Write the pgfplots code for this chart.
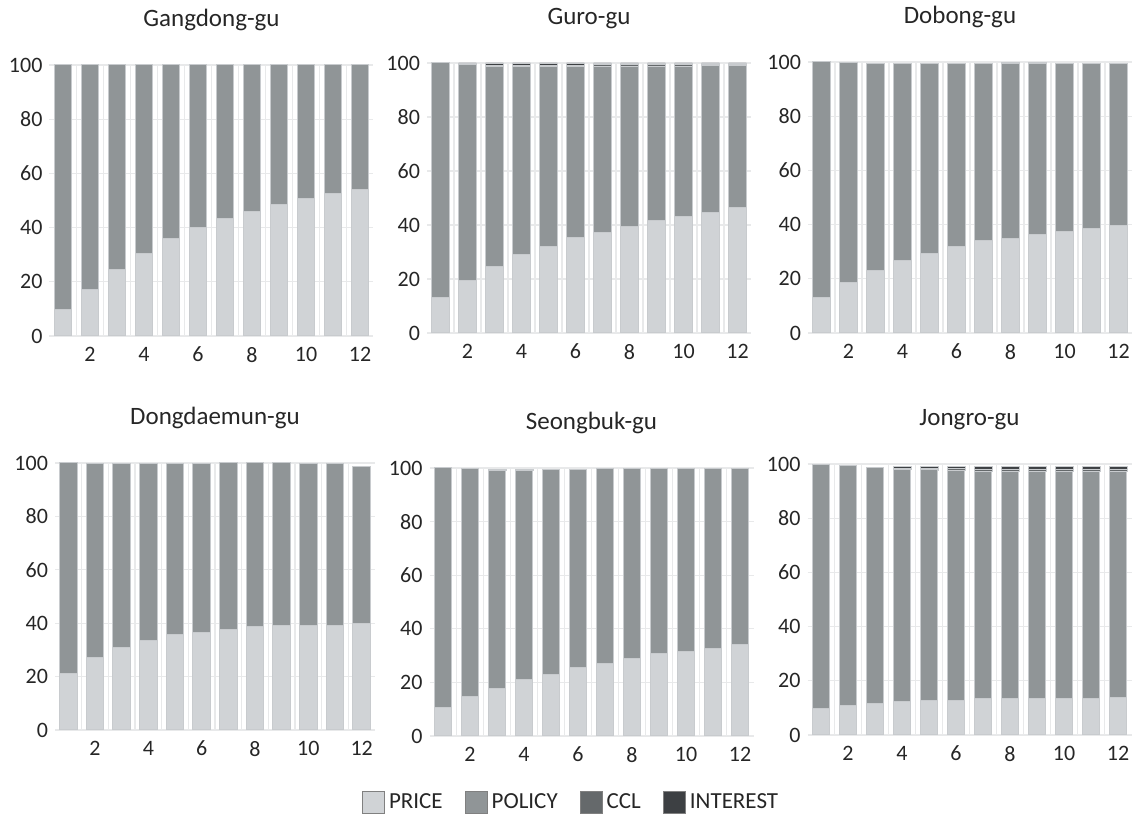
\documentclass[border=0pt]{standalone}
\usepackage{pgfplots}
\pgfplotsset{compat=1.18}
\usepackage{pgfplotstable}
\usepackage{fontspec}
\setmainfont{Carlito}
\definecolor{pricec}{HTML}{D0D3D6}
\definecolor{policyc}{HTML}{909597}
\definecolor{cclc}{HTML}{65696B}
\definecolor{interestc}{HTML}{3D4043}
\definecolor{barborder}{HTML}{C8CBCE}
\definecolor{gridc}{HTML}{E8E9EA}
\definecolor{legborder}{HTML}{808080}
\definecolor{textc}{HTML}{262626}

% x price policy ccl interest
\pgfplotstableread{
x price policy ccl interest
1 9.6 90.4 0 0
2 17.0 83.0 0 0
3 24.4 75.6 0 0
4 30.6 69.4 0 0
5 35.8 64.2 0 0
6 39.9 60.1 0 0
7 43.5 56.5 0 0
8 46.0 54.0 0 0
9 48.7 51.3 0 0
10 50.6 49.4 0 0
11 52.4 47.6 0 0
12 53.9 46.1 0 0
}\gangdong
\pgfplotstableread{
x price policy ccl interest
1 13.3 86.7 0 0
2 19.6 79.7 0.3 0.4
3 24.8 74.0 0.4 0.8
4 28.9 69.9 0.4 0.8
5 32.2 66.6 0.4 0.8
6 35.2 63.6 0.4 0.8
7 37.4 61.4 0.6 0.6
8 39.6 59.2 0.6 0.6
9 41.5 57.3 0.6 0.6
10 43.3 55.5 0.6 0.6
11 44.8 54.2 0.5 0.5
12 46.3 52.7 0.5 0.5
}\guro
\pgfplotstableread{
x price policy ccl interest
1 13.0 87.0 0 0
2 18.5 81.2 0 0
3 23.0 76.6 0 0
4 26.6 73.0 0 0
5 29.5 70.1 0 0
6 32.0 67.6 0 0
7 34.0 65.6 0 0
8 35.0 64.4 0 0.5
9 36.2 63.2 0 0.5
10 37.3 62.3 0 0
11 38.4 61.2 0 0
12 39.5 60.1 0 0
}\dobong
\pgfplotstableread{
x price policy ccl interest
1 21.0 79.0 0 0
2 27.3 72.4 0 0
3 31.0 68.7 0 0
4 33.7 66.0 0 0
5 35.6 64.1 0 0
6 36.7 63.0 0 0
7 37.8 62.2 0 0
8 38.6 61.4 0 0
9 39.0 61.0 0 0
10 39.0 60.7 0 0
11 39.3 60.4 0 0
12 39.7 59.0 0 0
}\dongdaemun
\pgfplotstableread{
x price policy ccl interest
1 10.8 89.2 0 0
2 14.6 85.1 0 0
3 17.9 81.2 0 0.5
4 20.9 78.2 0 0.5
5 23.1 76.4 0 0
6 25.4 74.1 0 0
7 27.2 72.5 0 0
8 29.1 70.6 0 0
9 30.6 69.1 0 0
10 31.7 68.0 0 0
11 32.8 66.9 0 0
12 34.0 65.7 0 0
}\seongbuk
\pgfplotstableread{
x price policy ccl interest
1 9.6 90.2 0 0
2 11.0 88.5 0 0
3 11.8 86.9 0 0
4 12.5 85.6 0.3 0.6
5 12.9 84.9 0.6 0.6
6 12.9 84.6 0.8 0.7
7 13.3 84.0 0.9 0.9
8 13.3 84.0 0.9 0.9
9 13.3 84.0 0.9 0.9
10 13.3 84.0 0.9 0.9
11 13.3 84.0 0.9 0.9
12 13.7 83.6 0.9 0.9
}\jongro

\pgfplotsset{
  panel/.style={
    scale only axis, width=162pt, height=135.5pt,
    anchor=south west,
    xmin=0.5, xmax=12.5, ymin=0, ymax=100,
    ybar stacked, bar width=0.66,
    xtick={2,4,...,12}, ytick={0,20,...,100},
    minor xtick={1.5,2.5,...,11.5},
    xminorgrids, ymajorgrids,
    major grid style={draw=gridc, line width=0.6pt},
    minor grid style={draw=gridc, line width=0.6pt},
    axis line style={draw=none},
    major tick length=0pt, minor tick length=0pt,
    tick label style={font=\fontsize{11}{13}\selectfont, text=textc},
    xticklabel style={yshift=-2pt},
    /pgf/number format/assume math mode=true,
    title style={font=\fontsize{12.5}{15}\selectfont, text=textc, at={(0.5,1)}, anchor=south, yshift=7.5pt},
    legend image code/.code={\draw[#1, draw=legborder, line width=0.5pt] (0pt,-5.5pt) rectangle (11pt,5.5pt);},
  },
  pstyle/.style={fill=pricec, draw=barborder, line width=0.5pt},
  lstyle/.style={fill=policyc, draw=barborder, line width=0.5pt},
  cstyle/.style={fill=cclc, draw=barborder, line width=0.3pt},
  istyle/.style={fill=interestc, draw=barborder, line width=0.3pt},
}

\newcommand{\bars}[1]{%
  \addplot[pstyle] table[x=x,y=price]{#1};
  \addplot[lstyle] table[x=x,y=policy]{#1};
  \addplot[cstyle] table[x=x,y=ccl]{#1};
  \addplot[istyle] table[x=x,y=interest]{#1};
}

\begin{document}
\begin{tikzpicture}
\useasboundingbox (0,0) rectangle (570.5pt,408.5pt);
\begin{axis}[panel, at={(24.75pt,240.5pt)}, title={Gangdong-gu}]
\bars{\gangdong}
\end{axis}
\begin{axis}[panel, at={(213.5pt,242pt)}, height=135pt, title={Guro-gu}]
\bars{\guro}
\end{axis}
\begin{axis}[panel, at={(404pt,242pt)}, title={Dobong-gu}, title style={xshift=-5pt}]
\bars{\dobong}
\end{axis}
\begin{axis}[panel, at={(27.5pt,43.5pt)}, width=160pt, height=133.5pt, title={Dongdaemun-gu}]
\bars{\dongdaemun}
\end{axis}
\begin{axis}[panel, at={(214.75pt,40.5pt)}, height=134pt, title={Seongbuk-gu},
  legend style={at={(0.44,-0.25)}, anchor=center, draw=none, fill=none,
    legend columns=4, font=\fontsize{11.5}{13}\selectfont, text=textc,
    /tikz/every even column/.append style={column sep=9pt}},
  legend cell align=left]
\bars{\seongbuk}
\legend{PRICE, POLICY, CCL, INTEREST}
\end{axis}
\begin{axis}[panel, at={(403.75pt,41pt)}, title={Jongro-gu}]
\bars{\jongro}
\end{axis}
\end{tikzpicture}
\end{document}
